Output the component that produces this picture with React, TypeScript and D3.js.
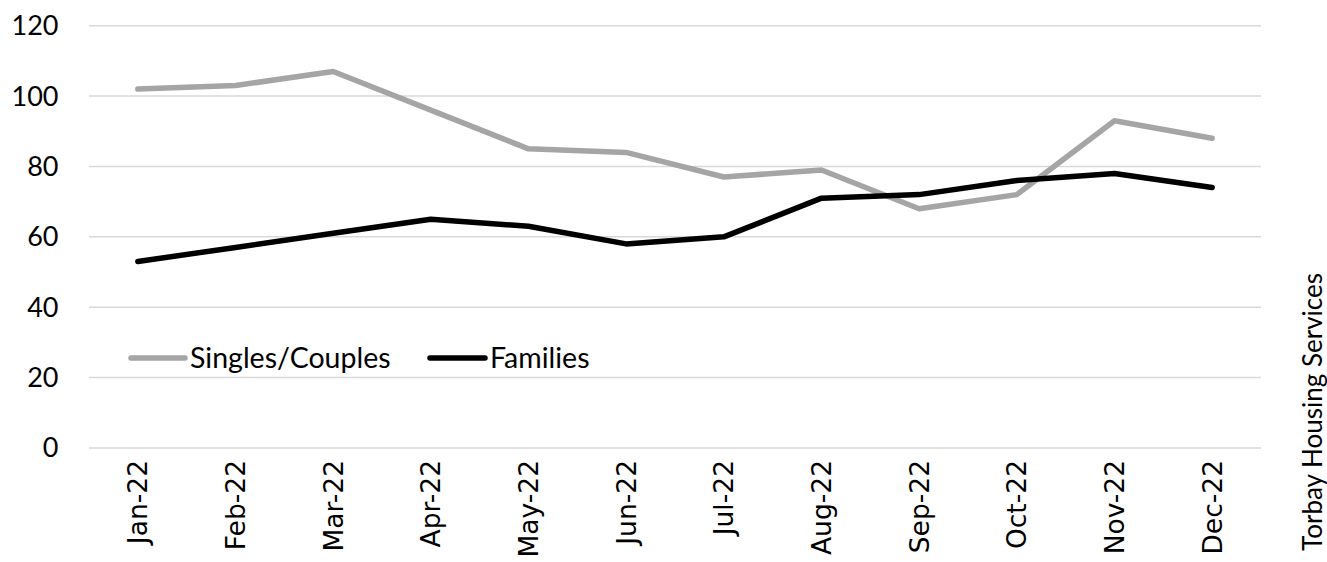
import React from "react";
import * as d3 from "d3";

// Monthly counts by household type
const months = ["Jan-22", "Feb-22", "Mar-22", "Apr-22", "May-22", "Jun-22", "Jul-22", "Aug-22", "Sep-22", "Oct-22", "Nov-22", "Dec-22"];
const singlesCouples = [102, 103, 107, 96, 85, 84, 77, 79, 68, 72, 93, 88];
const families = [53, 57, 61, 65, 63, 58, 60, 71, 72, 76, 78, 74];
const yTicks = [0, 20, 40, 60, 80, 100, 120];
const seriesNames = ["Singles/Couples", "Families"];
const sideTitle = "Torbay Housing Services";

const W = 1327;
const H = 562;
const plot = { left: 89, right: 1261, top: 25.7, bottom: 448 };
const labelFont = "Lato, 'Open Sans', sans-serif";
const GREY = "#a5a5a5";
const BLACK = "#000000";

export default function App() {
  const x = d3.scaleBand<string>().domain(months).range([plot.left, plot.right]);
  const y = d3.scaleLinear().domain([0, 120]).range([plot.bottom, plot.top]);
  const cx = (m: string) => (x(m) ?? 0) + x.bandwidth() / 2;

  const line = d3
    .line<number>()
    .x((_, i) => cx(months[i]))
    .y((v) => y(v));

  const series = [
    { name: seriesNames[0], values: singlesCouples, color: GREY },
    { name: seriesNames[1], values: families, color: BLACK },
  ];

  const legendY = 358;
  const legendItems = [
    { x0: 131, x1: 185, tx: 190, color: GREY, name: seriesNames[0] },
    { x0: 430, x1: 485, tx: 490, color: BLACK, name: seriesNames[1] },
  ];

  return (
    <svg
      width={W}
      height={H}
      style={{ position: "absolute", left: 0, top: 0, background: "#fff" }}
    >
      {yTicks.map((t) => (
        <g key={t}>
          <line x1={plot.left} x2={plot.right} y1={y(t)} y2={y(t)} stroke="#d9d9d9" strokeWidth={1.5} />
          <text
            x={58.5}
            y={y(t)}
            dy="0.35em"
            textAnchor="end"
            fontFamily={labelFont}
            fontSize={27}
            fill="#000"
          >
            {t}
          </text>
        </g>
      ))}

      {months.map((m) => (
        <text
          key={m}
          transform={`translate(${cx(m) + 9.5},460) rotate(-90)`}
          textAnchor="end"
          fontFamily="'DejaVu Sans', sans-serif"
          fontSize={26.5}
          fill="#000"
        >
          {m}
        </text>
      ))}

      {series.map((s) => (
        <path
          key={s.name}
          d={line(s.values) ?? ""}
          fill="none"
          stroke={s.color}
          strokeWidth={5.5}
          strokeLinejoin="round"
          strokeLinecap="round"
        />
      ))}

      {legendItems.map((l) => (
        <g key={l.name}>
          <line x1={l.x0} x2={l.x1} y1={legendY} y2={legendY} stroke={l.color} strokeWidth={5.5} strokeLinecap="round" />
          <text x={l.tx} y={legendY} dy="0.35em" fontFamily={labelFont} fontSize={28.5} fill="#000">
            {l.name}
          </text>
        </g>
      ))}

      <text
        transform="translate(1322,412) rotate(-90)"
        textAnchor="middle"
        fontFamily={labelFont}
        fontSize={26}
        fill="#000"
      >
        {sideTitle}
      </text>
    </svg>
  );
}
